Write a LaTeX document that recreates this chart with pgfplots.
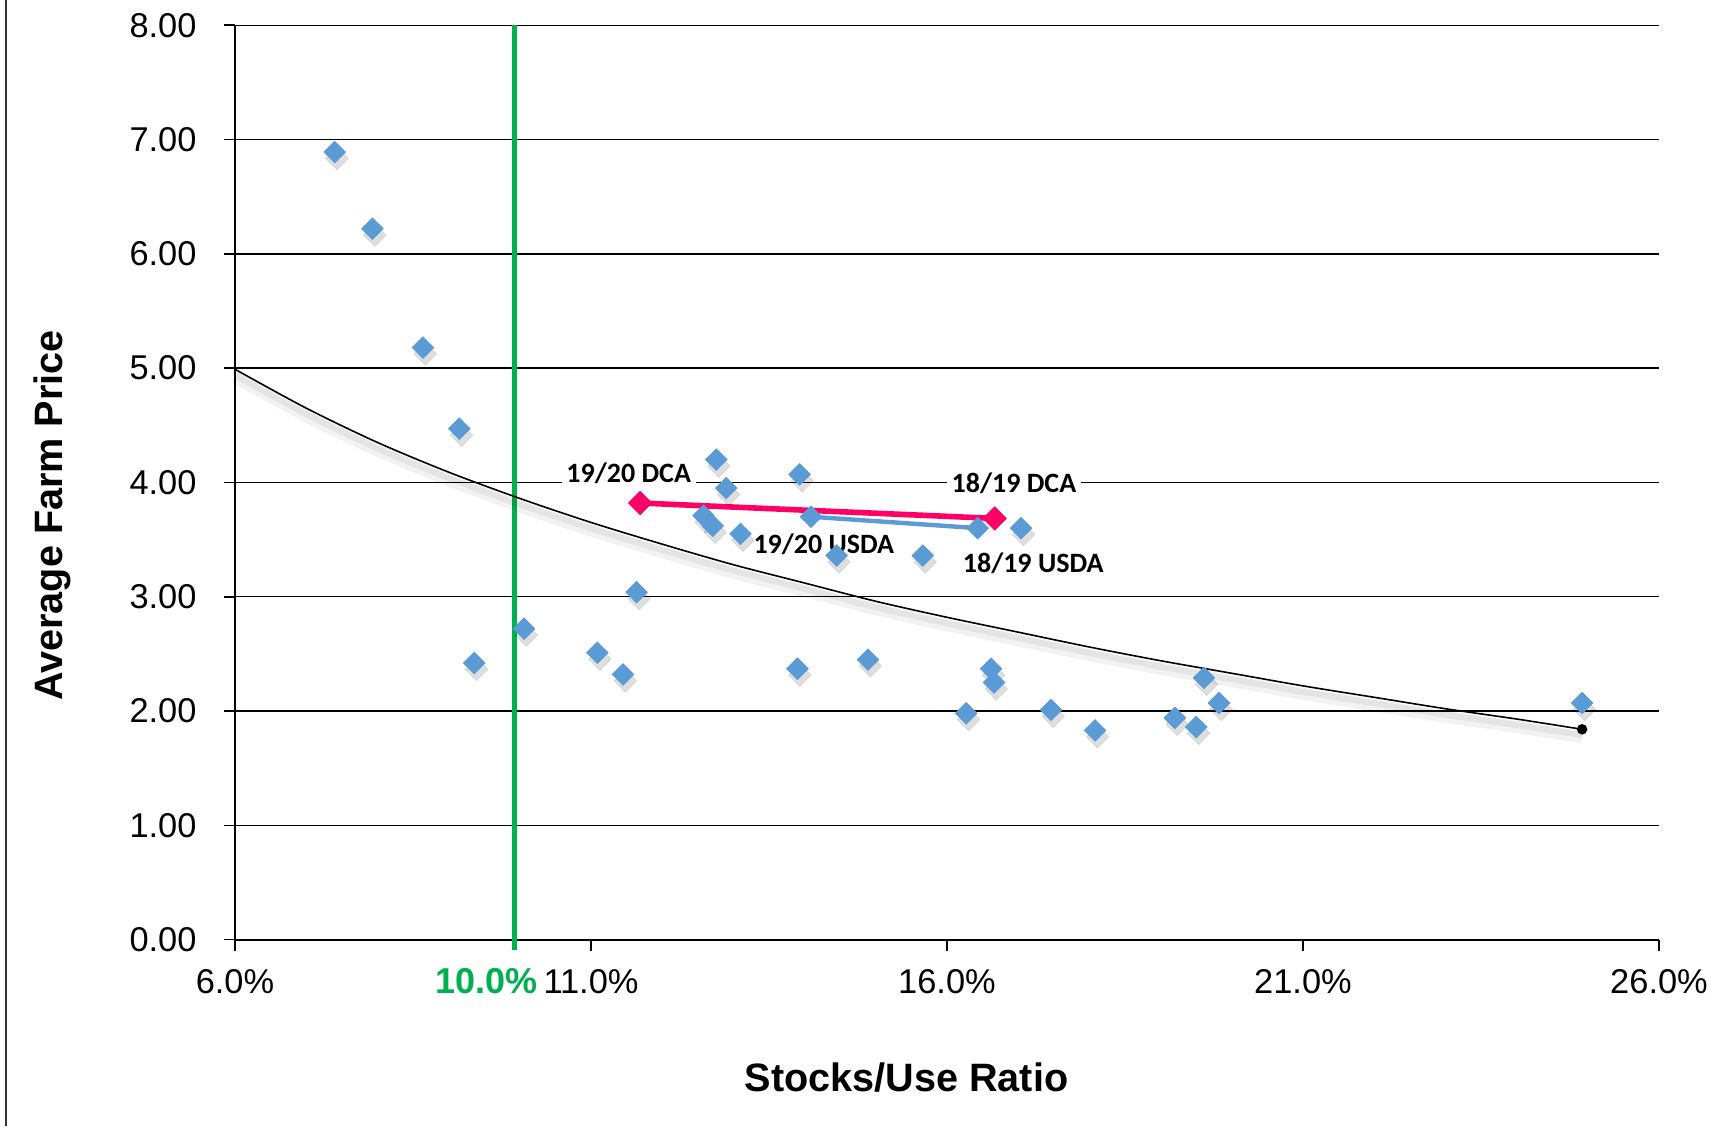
\documentclass[border=0pt]{standalone}
\usepackage{pgfplots}
\pgfplotsset{compat=1.18}
\usepackage{pgfplotstable}
\usepackage{fontspec}
\setmainfont{Liberation Sans}
\newfontfamily\calib{Carlito}
\definecolor{ptblue}{HTML}{5B9BD5}
\definecolor{dcapink}{HTML}{FF0066}
\definecolor{limgreen}{HTML}{00B050}

\pgfplotstableread{
x y
7.40 6.89
7.93 6.22
8.64 5.18
9.15 4.47
9.36 2.42
10.06 2.72
11.09 2.51
11.45 2.32
11.64 3.04
12.58 3.71
12.71 3.62
12.76 4.20
12.90 3.95
13.10 3.55
13.90 2.37
13.93 4.07
14.45 3.36
14.89 2.45
15.66 3.36
16.27 1.98
16.62 2.37
16.66 2.25
17.04 3.60
17.46 2.01
18.08 1.83
19.20 1.94
19.50 1.86
19.61 2.29
19.82 2.07
24.92 2.07
}\scatterdata

\pgfplotstableread{
x y
6 4.99
7 4.65
8 4.35
9 4.09
10 3.86
11 3.65
12 3.46
13 3.28
14 3.12
15 2.96
16 2.82
17 2.69
18 2.56
19 2.44
20 2.33
21 2.22
22 2.12
23 2.02
24 1.93
24.92 1.84
}\trenddata

\begin{document}
\begin{tikzpicture}
\useasboundingbox (-58.75pt,-46.6pt) rectangle (371.5pt,234.9pt);
\draw[line width=0.6pt, black!80] (-57.25pt,-46.6pt) -- (-57.25pt,234.9pt);
\begin{axis}[
  at={(0,0)}, anchor=south west,
  scale only axis, width=356pt, height=228.6pt,
  xmin=6, xmax=26, ymin=0, ymax=8,
  clip=false,
  axis x line*=bottom, axis y line*=left,
  axis line style={black, line width=0.5pt},
  tick align=outside, major tick length=2.8pt,
  tick style={black, line width=0.4pt},
  xtick={6,11,16,21,26},
  xticklabels={6.0\%,11.0\%,16.0\%,21.0\%,26.0\%},
  ytick={0,1,2,3,4,5,6,7,8},
  /pgf/number format/fixed,
  /pgf/number format/fixed zerofill,
  /pgf/number format/precision=2,
  /pgf/number format/assume math mode=true,
  tick label style={font=\fontsize{8.6}{10}\selectfont},
  xticklabel style={anchor=center, yshift=-7.8pt},
  yticklabel style={xshift=-3.3pt},
  ymajorgrids,
  major grid style={black, line width=0.35pt},
  xlabel={Stocks/Use Ratio},
  ylabel={Average Farm Price},
  label style={font=\bfseries\fontsize{9.9}{12}\selectfont},
  xlabel style={at={(axis description cs:0.4716,-0.1511)}, anchor=center},
  ylabel style={at={(axis description cs:-0.1285,0.464)}, anchor=center},
]
\addplot[limgreen, line width=1.25pt] coordinates {(9.93,-0.09) (9.93,8)};
\addplot[black, opacity=0.05, line width=3pt, smooth, yshift=-2pt] table {\trenddata};
\addplot[black, opacity=0.06, line width=1.5pt, smooth, yshift=-1.5pt] table {\trenddata};
\addplot[black, line width=0.4pt, smooth] table {\trenddata};
\addplot[only marks, color=black, mark=*, mark size=1.1pt] coordinates {(24.92,1.84)};
\addplot[only marks, color=black, mark=square*, mark size=2.0pt,
  mark options={xshift=0.6pt, yshift=-1.6pt, rotate=45, draw=black, fill=black, line width=0.1pt, opacity=0.13}] table {\scatterdata};
\addplot[only marks, color=ptblue, mark=square*, mark size=1.9pt,
  mark options={rotate=45, draw=ptblue, fill=ptblue, line width=0.2pt}] table {\scatterdata};
\addplot[ptblue, line width=1.1pt, mark=square*, mark size=1.9pt,
  mark options={rotate=45, draw=ptblue, fill=ptblue, line width=0.2pt}] coordinates {(14.09,3.70) (16.43,3.60)};
\addplot[dcapink, line width=1.4pt, mark=square*, mark size=2.05pt,
  mark options={rotate=45, draw=dcapink, fill=dcapink, line width=0.2pt}] coordinates {(11.69,3.82) (16.67,3.685)};
\node[font=\calib\bfseries\fontsize{7}{8}\selectfont, fill=white, inner sep=1.2pt] at (axis cs:11.53,4.08) {19/20 DCA};
\node[font=\calib\bfseries\fontsize{7}{8}\selectfont, fill=white, inner sep=1.2pt] at (axis cs:16.94,3.99) {18/19 DCA};
\node[font=\calib\bfseries\fontsize{7}{8}\selectfont, inner sep=1pt] at (axis cs:14.27,3.46) {19/20 USDA};
\node[font=\calib\bfseries\fontsize{7}{8}\selectfont, inner sep=1pt] at (axis cs:17.21,3.29) {18/19 USDA};
\node[font=\bfseries\fontsize{9}{10}\selectfont, text=limgreen, anchor=center] at ([yshift=-10.4pt]axis cs:9.53,0) {10.0\%};
\end{axis}
\end{tikzpicture}
\end{document}
